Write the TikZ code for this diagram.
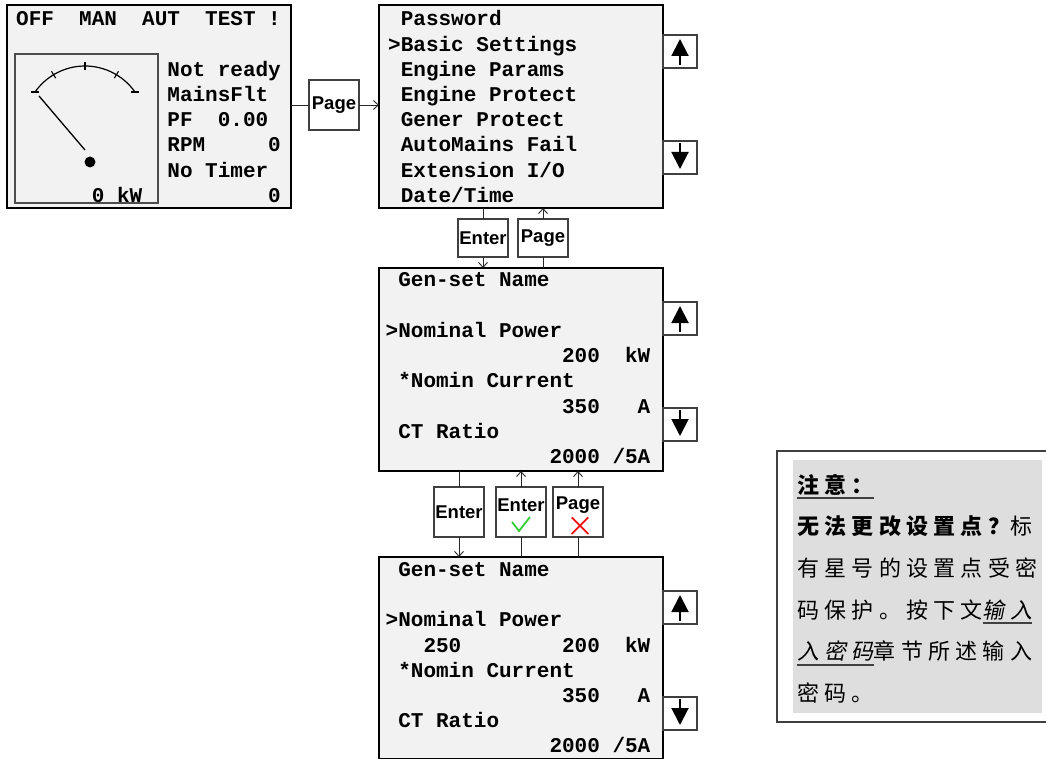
\documentclass[tikz,border=0pt]{standalone}
\usepackage{fontspec}
\setmainfont{Liberation Sans}
\setmonofont{Liberation Mono}
\newfontfamily\cjk[LetterSpace=24]{Noto Sans CJK SC}
\usepackage{tikz}
\usepackage{xcolor}
\usetikzlibrary{positioning}
\usetikzlibrary{calc}
\usetikzlibrary{arrows.meta}

\definecolor{lcdgray}{HTML}{F2F2F2}
\definecolor{notegray}{HTML}{DEDEDE}
\definecolor{okgreen}{HTML}{33CC33}
\definecolor{nored}{HTML}{EE1111}

\newcommand{\lcdrow}[4]{%
    \node [lcd] at ($ (#1) + (#2*12.6, -#3*25.2) $) {#4};%
}
\newcommand{\scrollkeys}[3]{%
    \node [arrowkey] (#1up) at ($ (#1.north east) + (0,-#2) $) {};
    \node [arrowkey] (#1down) at ($ (#1.north east) + (0,-#3) $) {};
    \draw [scrollarrow] ($ (#1up.south) + (0,3) $) -- ($ (#1up.north) + (0,-4) $);
    \draw [scrollarrow] ($ (#1down.north) + (0,-2) $) -- ($ (#1down.south) + (0,5) $);%
}
\newcommand{\noteul}[1]{\setbox0=\hbox{#1}\rlap{\color{black!75}\rule[-5.7pt]{\wd0}{1.4pt}}\box0}
\newcommand{\cjkslant}{\addfontfeature{FakeSlant=0.2}}

\tikzset{
    screen/.style={draw, line width=2pt, fill=lcdgray, anchor=north west,
        minimum width=284pt, minimum height=203pt, outer sep=0pt, inner sep=0pt},
    lcd/.style={anchor=base west, inner sep=0pt, font=\fontsize{21}{25}\selectfont\ttfamily\bfseries},
    keybox/.style={draw=black!75, line width=1.2pt, fill=white, minimum width=50pt,
        outer sep=0pt, inner sep=0pt, font=\fontsize{18.5}{21}\selectfont\bfseries},
    keytext/.style={inner sep=0pt, font=\fontsize{18.5}{21}\selectfont\bfseries},
    arrowkey/.style={draw=black!75, line width=1.2pt, fill=white, anchor=north west,
        minimum width=34pt, minimum height=33pt, outer sep=0pt},
    scrollarrow/.style={line width=2pt, -{Triangle[width=17pt,length=17pt]}},
    link/.style={line width=0.9pt, black!85},
    >={Straight Barb[length=5pt,width=9pt]},
    notetext/.style={anchor=base west, inner sep=0pt, font=\cjk\fontsize{22}{26}\selectfont}
}

\begin{document}
\begin{tikzpicture}[x=1pt, y=1pt]
    \useasboundingbox (0,0) rectangle (1046,-759);

    % status screen
    \node [screen] (scr1) at (7,-5) {};
    \node [draw=black!70, line width=1.2pt, anchor=north west, minimum width=143pt,
        minimum height=149pt, outer sep=0pt] (gauge) at (15,-54) {};
    \coordinate (pivot) at (85,-127);
    \draw [line width=1.2pt] ($ (pivot) + (35:61) $) arc [start angle=35, end angle=145, radius=61];
    \foreach \a in {59,90,121}
        \draw [line width=1.1pt] ($ (pivot) + (\a:57) $) -- ($ (pivot) + (\a:65) $);
    \foreach \a in {35,145}
        \draw [line width=1.1pt] ($ (pivot) + (\a:61) + (-4,0) $) -- ++(8,0);
    \draw [line width=1.3pt] (39,-96) -- (85,-150);
    \fill (90,-162) circle (5.5);

    \coordinate (s1) at (16,-26);
    \foreach \c/\t in {0/OFF, 5/MAN, 10/AUT, 15/TEST, 20/!}
        {\lcdrow{s1}{\c}{0}{\t}}
    \lcdrow{s1}{12}{2}{Not ready}
    \lcdrow{s1}{12}{3}{MainsFlt}
    \lcdrow{s1}{12}{4}{PF}
    \lcdrow{s1}{16}{4}{0.00}
    \lcdrow{s1}{12}{5}{RPM}
    \lcdrow{s1}{20}{5}{0}
    \lcdrow{s1}{12}{6}{No Timer}
    \lcdrow{s1}{6}{7}{0 kW}
    \lcdrow{s1}{20}{7}{0}

    %%%%%%

    \node [screen] (scr2) at (379,-5) {};
    \coordinate (s2) at (388,-26);
    \foreach \r/\t in {0/Password, 2/Engine Params, 3/Engine Protect, 4/Gener Protect,
        5/AutoMains Fail, 6/{Extension I/O}, 7/{Date/Time}}
        {\lcdrow{s2}{1}{\r}{\t}}
    \lcdrow{s2}{0}{1}{>Basic Settings}
    \scrollkeys{scr2}{30}{136}

    \node [keybox, minimum height=50pt] (page1) at (334,-105) {Page};
    \draw [link] (scr1.east |- page1.west) -- (page1.west);
    \draw [link, ->] (page1.east) -- (page1.east -| scr2.west);

    %%%%%%

    \node [screen] (scr3) at (379,-268) {};
    \coordinate (s3) at (385.5,-287);
    \lcdrow{s3}{1}{0}{Gen-set Name}
    \lcdrow{s3}{0}{2}{>Nominal Power}
    \lcdrow{s3}{14}{3}{200}
    \lcdrow{s3}{19}{3}{kW}
    \lcdrow{s3}{1}{4}{*Nomin Current}
    \lcdrow{s3}{14}{5}{350}
    \lcdrow{s3}{20}{5}{A}
    \lcdrow{s3}{1}{6}{CT Ratio}
    \lcdrow{s3}{13}{7}{2000}
    \lcdrow{s3}{18}{7}{/5A}
    \scrollkeys{scr3}{34}{140}

    \node [keybox, minimum height=38pt] (enter1) at (483,-238) {Enter};
    \node [keybox, minimum height=38pt] (page2) at (543,-238) {Page};
    \draw [link] (scr2.south -| enter1) -- (enter1.north);
    \draw [link, ->] (enter1.south) -- (enter1.south |- scr3.north);
    \draw [link] (scr3.north -| page2) -- (page2.south);
    \draw [link, ->] (page2.north) -- (page2.north |- scr2.south);

    %%%%%%

    \node [screen, minimum height=202pt] (scr4) at (379,-557) {};
    \coordinate (s4) at (385.5,-576.5);
    \lcdrow{s4}{1}{0}{Gen-set Name}
    \lcdrow{s4}{0}{2}{>Nominal Power}
    \lcdrow{s4}{3}{3}{250}
    \lcdrow{s4}{14}{3}{200}
    \lcdrow{s4}{19}{3}{kW}
    \lcdrow{s4}{1}{4}{*Nomin Current}
    \lcdrow{s4}{14}{5}{350}
    \lcdrow{s4}{20}{5}{A}
    \lcdrow{s4}{1}{6}{CT Ratio}
    \lcdrow{s4}{13}{7}{2000}
    \lcdrow{s4}{18}{7}{/5A}
    \scrollkeys{scr4}{34}{140}

    \node [keybox, minimum height=50pt] (enter2) at (459,-512) {Enter};
    \node [keybox, minimum height=50pt] (enter3) at (521,-512) {};
    \node [keytext] (enter3txt) at ($ (enter3) + (0,7) $) {Enter};
    \draw [okgreen, line width=1.8pt] ($ (enter3) + (-9,-10) $) -- ++(7,-9) -- ++(11,14);
    \node [keybox, minimum height=50pt] (page3) at (578,-512) {};
    \node [keytext] (page3txt) at ($ (page3) + (0,7) $) {Page};
    \draw [nored, line width=1.8pt] ($ (page3) + (-6.3,-5.4) $) -- ++(16.6,-16.6)
        ($ (page3) + (-6.3,-22) $) -- ++(16.6,16.6);
    \draw [link] (scr3.south -| enter2) -- (enter2.north);
    \draw [link, ->] (enter2.south) -- (enter2.south |- scr4.north);
    \foreach \k in {enter3, page3} {
        \draw [link] (scr4.north -| \k) -- (\k.south);
        \draw [link, ->] (\k.north) -- (\k.north |- scr3.south);
    }

    %%%%%%

    \node [draw=black!75, line width=1.5pt, anchor=north west, minimum width=272pt,
        minimum height=271pt, outer sep=0pt] (note) at (777,-451) {};
    \node [fill=notegray, anchor=north west, minimum width=249pt, minimum height=253pt,
        outer sep=0pt] (noteback) at (793,-460) {};
    \node [notetext] (note1) at (797,-493) {\bfseries\noteul{注意：}};
    \node [notetext] (note2) at (797,-534.7) {{\bfseries 无法更改设置点？}标};
    \node [notetext] (note3) at (797,-576.4) {有星号的设置点受密};
    \node [notetext] (note4) at (797,-618.1) {码保护。按下文\noteul{\cjkslant 输入}};
    \node [notetext] (note5) at (797,-659.8) {\noteul{\cjkslant 入密码}章节所述输入};
    \node [notetext] (note6) at (797,-701.5) {密码。};

\end{tikzpicture}
\end{document}
